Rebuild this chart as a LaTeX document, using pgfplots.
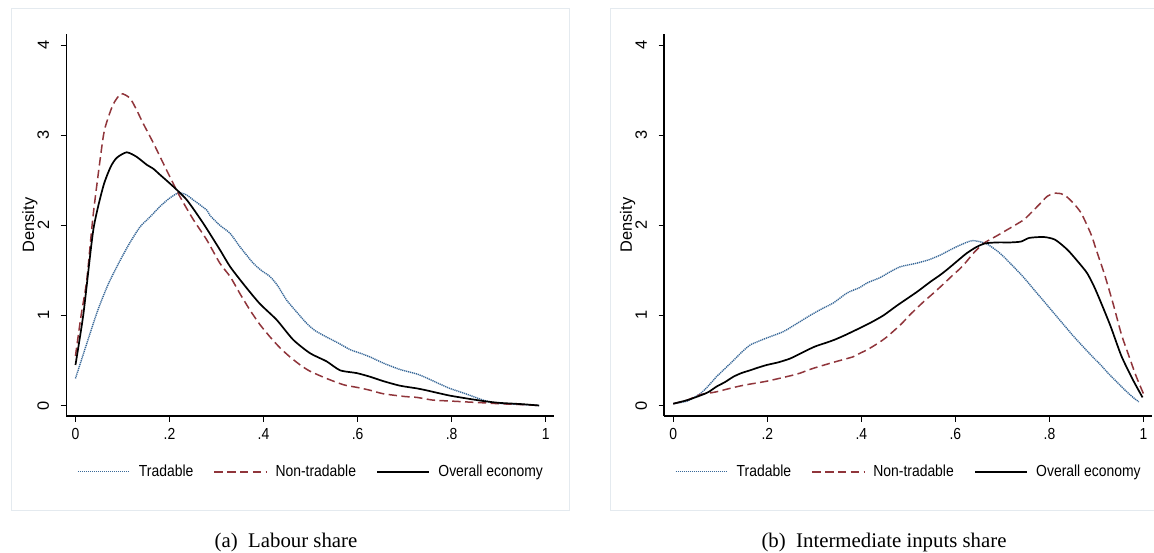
\documentclass[border=0pt]{standalone}
\usepackage{fontspec}
\usepackage{pgfplots}
\pgfplotsset{compat=1.18}
\setmainfont{Liberation Serif}
\newfontfamily\sansc{Liberation Sans}[FakeStretch=0.87]
\newfontfamily\sansn{Liberation Sans}
\definecolor{trad}{RGB}{56,104,152}
\definecolor{nontrad}{RGB}{144,53,59}
\definecolor{panelborder}{RGB}{228,234,239}

\pgfplotstableread{
x y
0 0.30
0.045 1.02
0.07 1.35
0.095 1.61
0.115 1.80
0.137 1.98
0.16 2.10
0.18 2.21
0.2 2.30
0.219 2.36
0.235 2.34
0.251 2.28
0.279 2.17
0.286 2.11
0.307 2.00
0.329 1.91
0.35 1.76
0.378 1.58
0.395 1.50
0.414 1.43
0.43 1.33
0.449 1.17
0.47 1.04
0.492 0.91
0.51 0.83
0.534 0.76
0.56 0.69
0.584 0.62
0.606 0.58
0.626 0.54
0.655 0.47
0.69 0.40
0.726 0.35
0.745 0.31
0.77 0.25
0.796 0.19
0.83 0.13
0.867 0.06
0.89 0.03
0.91 0.02
0.95 0.01
0.986 0.0
}\tradA

\pgfplotstableread{
x y
0 0.55
0.012 1.0
0.024 1.39
0.038 2.13
0.059 2.98
0.07 3.20
0.081 3.35
0.097 3.46
0.116 3.41
0.13 3.28
0.144 3.13
0.166 2.91
0.194 2.61
0.222 2.32
0.251 2.06
0.279 1.84
0.307 1.58
0.329 1.43
0.35 1.24
0.371 1.06
0.392 0.90
0.414 0.76
0.435 0.64
0.456 0.54
0.478 0.45
0.499 0.38
0.534 0.30
0.57 0.23
0.6 0.20
0.626 0.17
0.655 0.13
0.7 0.10
0.726 0.09
0.76 0.06
0.796 0.05
0.83 0.04
0.867 0.03
0.9 0.02
0.95 0.01
0.986 0.0
}\nontradA

\pgfplotstableread{
x y
0 0.45
0.017 1.02
0.038 1.95
0.059 2.43
0.075 2.65
0.088 2.75
0.109 2.81
0.13 2.76
0.152 2.67
0.165 2.63
0.18 2.56
0.208 2.43
0.237 2.28
0.272 2.02
0.307 1.73
0.329 1.54
0.36 1.33
0.392 1.13
0.428 0.95
0.463 0.73
0.499 0.58
0.534 0.49
0.563 0.39
0.598 0.36
0.626 0.32
0.655 0.27
0.69 0.22
0.726 0.19
0.745 0.17
0.77 0.14
0.796 0.11
0.83 0.08
0.867 0.05
0.9 0.03
0.95 0.015
0.986 0.0
}\overallA

\pgfplotstableread{
x y
0 0.02
0.03 0.05
0.057 0.13
0.075 0.22
0.092 0.32
0.11 0.41
0.128 0.50
0.145 0.59
0.163 0.67
0.18 0.71
0.199 0.75
0.234 0.82
0.263 0.91
0.291 1.00
0.315 1.07
0.341 1.14
0.37 1.25
0.397 1.31
0.412 1.36
0.44 1.42
0.46 1.48
0.483 1.54
0.518 1.58
0.545 1.62
0.568 1.67
0.59 1.73
0.61 1.78
0.636 1.83
0.664 1.80
0.685 1.73
0.703 1.65
0.742 1.44
0.773 1.25
0.812 1.01
0.851 0.77
0.89 0.55
0.909 0.45
0.93 0.33
0.969 0.13
0.99 0.04
}\tradB

\pgfplotstableread{
x y
0 0.02
0.03 0.06
0.057 0.12
0.09 0.15
0.128 0.20
0.155 0.23
0.199 0.27
0.249 0.33
0.27 0.36
0.296 0.41
0.341 0.48
0.382 0.54
0.397 0.58
0.413 0.62
0.435 0.69
0.454 0.76
0.484 0.90
0.504 1.01
0.53 1.14
0.554 1.25
0.577 1.36
0.593 1.44
0.61 1.52
0.624 1.60
0.64 1.70
0.66 1.80
0.687 1.88
0.71 1.95
0.745 2.06
0.765 2.16
0.78 2.24
0.795 2.32
0.81 2.355
0.825 2.35
0.836 2.32
0.852 2.24
0.867 2.14
0.88 2.00
0.89 1.88
0.90 1.72
0.918 1.44
0.937 1.10
0.953 0.79
0.969 0.55
0.984 0.33
1.0 0.13
}\nontradB

\pgfplotstableread{
x y
0 0.02
0.03 0.06
0.057 0.11
0.075 0.15
0.092 0.21
0.11 0.26
0.128 0.32
0.145 0.36
0.163 0.39
0.18 0.42
0.199 0.45
0.224 0.48
0.248 0.52
0.264 0.56
0.291 0.63
0.304 0.66
0.327 0.70
0.343 0.73
0.365 0.78
0.397 0.86
0.42 0.92
0.447 1.00
0.476 1.11
0.518 1.26
0.546 1.37
0.568 1.45
0.585 1.52
0.61 1.63
0.624 1.69
0.645 1.76
0.664 1.80
0.69 1.81
0.718 1.81
0.74 1.82
0.757 1.86
0.788 1.87
0.812 1.84
0.838 1.73
0.86 1.60
0.88 1.47
0.895 1.32
0.909 1.15
0.93 0.88
0.953 0.55
0.977 0.29
0.998 0.09
}\overallB

\pgfplotsset{
  densstyle/.style={
    scale only axis, width=243.85pt, height=191pt,
    xmin=-0.0197, xmax=1.0175, ymin=-0.1165, ymax=4.123,
    axis x line*=bottom, axis y line*=left,
    axis line style={-, line width=0.55pt, black},
    tick align=outside, major tick length=2.75pt,
    tick style={line width=0.55pt, black},
    xtick={0,0.2,0.4,0.6,0.8,1}, xticklabels={0,.2,.4,.6,.8,1},
    ytick={0,1,2,3,4}, yticklabels={0,1,2,3,4},
    xticklabel style={font=\sansc\fontsize{8}{9.6}\selectfont, inner sep=0pt, anchor=north, yshift=-3.2pt},
    yticklabel style={font=\sansn\fontsize{8.2}{9.6}\selectfont, inner sep=0pt, xshift=-5.6pt, rotate=90, anchor=south},
    ylabel={Density},
    ylabel style={font=\sansn\fontsize{8.2}{9.6}\selectfont, inner sep=0pt, at={(axis description cs:-0.058,0.5)}, anchor=south},
    legend columns=3,
    legend style={draw=none, fill=none, inner sep=0pt, outer sep=0pt,
      at={(axis description cs:0.0226,-0.146)}, anchor=west,
      font=\sansc\fontsize{8}{9.6}\selectfont,
      nodes={inner sep=0pt, text depth=0.15em},
      /tikz/every odd column/.append style={column sep=4.4pt},
      /tikz/every even column/.append style={column sep=10.2pt}},
    legend image code/.code={\draw[##1] (0pt,0pt) -- (25.75pt,0pt);},
  },
  tradline/.style={trad, line width=0.7pt, dash pattern=on 0.6pt off 0.4pt, smooth, tension=0.4},
  nontradline/.style={nontrad, line width=0.75pt, dash pattern=on 4.2pt off 2.2pt, smooth, tension=0.4},
  overallline/.style={black, line width=0.85pt, smooth, tension=0.4},
}

\begin{document}
\begin{tikzpicture}
\useasboundingbox (0,0) rectangle (577pt,276pt);
\draw[panelborder, line width=0.5pt] (5.5pt,271.5pt) rectangle (284.5pt,21pt);
\draw[panelborder, line width=0.5pt] (577pt,271.5pt) -- (305pt,271.5pt) -- (305pt,21pt) -- (577pt,21pt);

\begin{axis}[densstyle, at={(33.1pt,68pt)}, anchor=south west]
\addplot[tradline] table[x=x,y=y] {\tradA};
\addlegendentry{Tradable}
\addplot[nontradline] table[x=x,y=y] {\nontradA};
\addlegendentry{Non-tradable}
\addplot[overallline] table[x=x,y=y] {\overallA};
\addlegendentry{Overall economy}
\end{axis}

\begin{axis}[densstyle, at={(332pt,68pt)}, anchor=south west]
\addplot[tradline] table[x=x,y=y] {\tradB};
\addlegendentry{Tradable}
\addplot[nontradline] table[x=x,y=y] {\nontradB};
\addlegendentry{Non-tradable}
\addplot[overallline] table[x=x,y=y] {\overallB};
\addlegendentry{Overall economy}
\end{axis}

\node[anchor=base, font=\fontsize{10.4}{12}\selectfont] at (143pt,2.5pt) {(a)\enspace Labour share};
\node[anchor=base, font=\fontsize{10.4}{12}\selectfont] at (442pt,2.5pt) {(b)\enspace Intermediate inputs share};
\end{tikzpicture}
\end{document}
